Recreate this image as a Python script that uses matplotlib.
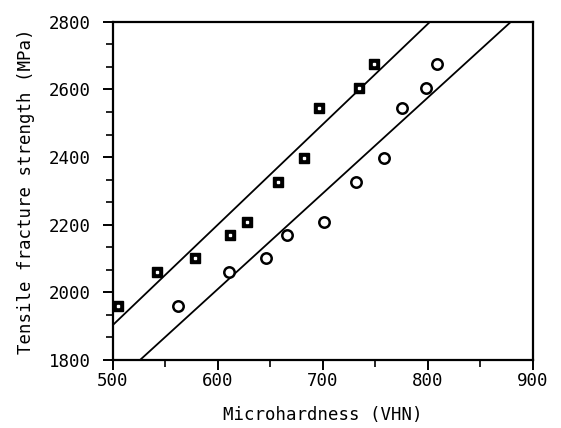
import numpy as np
import matplotlib.pyplot as plt
from matplotlib.ticker import MultipleLocator

# data
sq_x = [505, 542, 578, 612, 628, 657, 682, 696, 734, 749]
sq_y = [1960, 2060, 2102, 2171, 2209, 2326, 2396, 2544, 2603, 2674]
ci_x = [562, 611, 646, 666, 701, 732, 758, 775, 798, 809]
ci_y = [1960, 2060, 2102, 2171, 2209, 2326, 2396, 2546, 2603, 2674]

# fitted lines (end points)
fit1_x = [500, 802]
fit1_y = [1903, 2800]
fit2_x = [526, 879]
fit2_y = [1800, 2800]

plt.rcParams['font.family'] = ['DejaVu Sans Mono']

fig = plt.figure(figsize=(5.61, 4.28), dpi=100)
ax = fig.add_axes([0.201, 0.159, 0.749, 0.790])

ax.plot(fit1_x, fit1_y, color='black', lw=1.3)
ax.plot(fit2_x, fit2_y, color='black', lw=1.3)

# squares: black square with small white centre
ax.plot(sq_x, sq_y, ls='none', marker='s', ms=7, mfc='black', mec='black', clip_on=False)
ax.plot(sq_x, sq_y, ls='none', marker='s', ms=2, mfc='white', mec='white', clip_on=False)
# open circles
ax.plot(ci_x, ci_y, ls='none', marker='o', ms=7.5, mfc='white', mec='black', mew=1.8)

ax.set_xlim(500, 900)
ax.set_ylim(1800, 2800)
ax.xaxis.set_major_locator(MultipleLocator(100))
ax.xaxis.set_minor_locator(MultipleLocator(50))
ax.yaxis.set_major_locator(MultipleLocator(200))
ax.yaxis.set_minor_locator(MultipleLocator(200 / 3))

for s in ax.spines.values():
    s.set_linewidth(1.6)

ax.tick_params(which='major', direction='out', length=7, width=1.4, labelsize=12.5, pad=2)
ax.tick_params(which='minor', direction='out', length=5, width=1.2)
ax.tick_params(axis='y', which='major', pad=9)

ax.set_xlabel('Microhardness (VHN)', fontsize=12.5, labelpad=11)
ax.set_ylabel('Tensile fracture strength (MPa)', fontsize=12.5, labelpad=10)

fig.savefig('out.png', dpi=100)
